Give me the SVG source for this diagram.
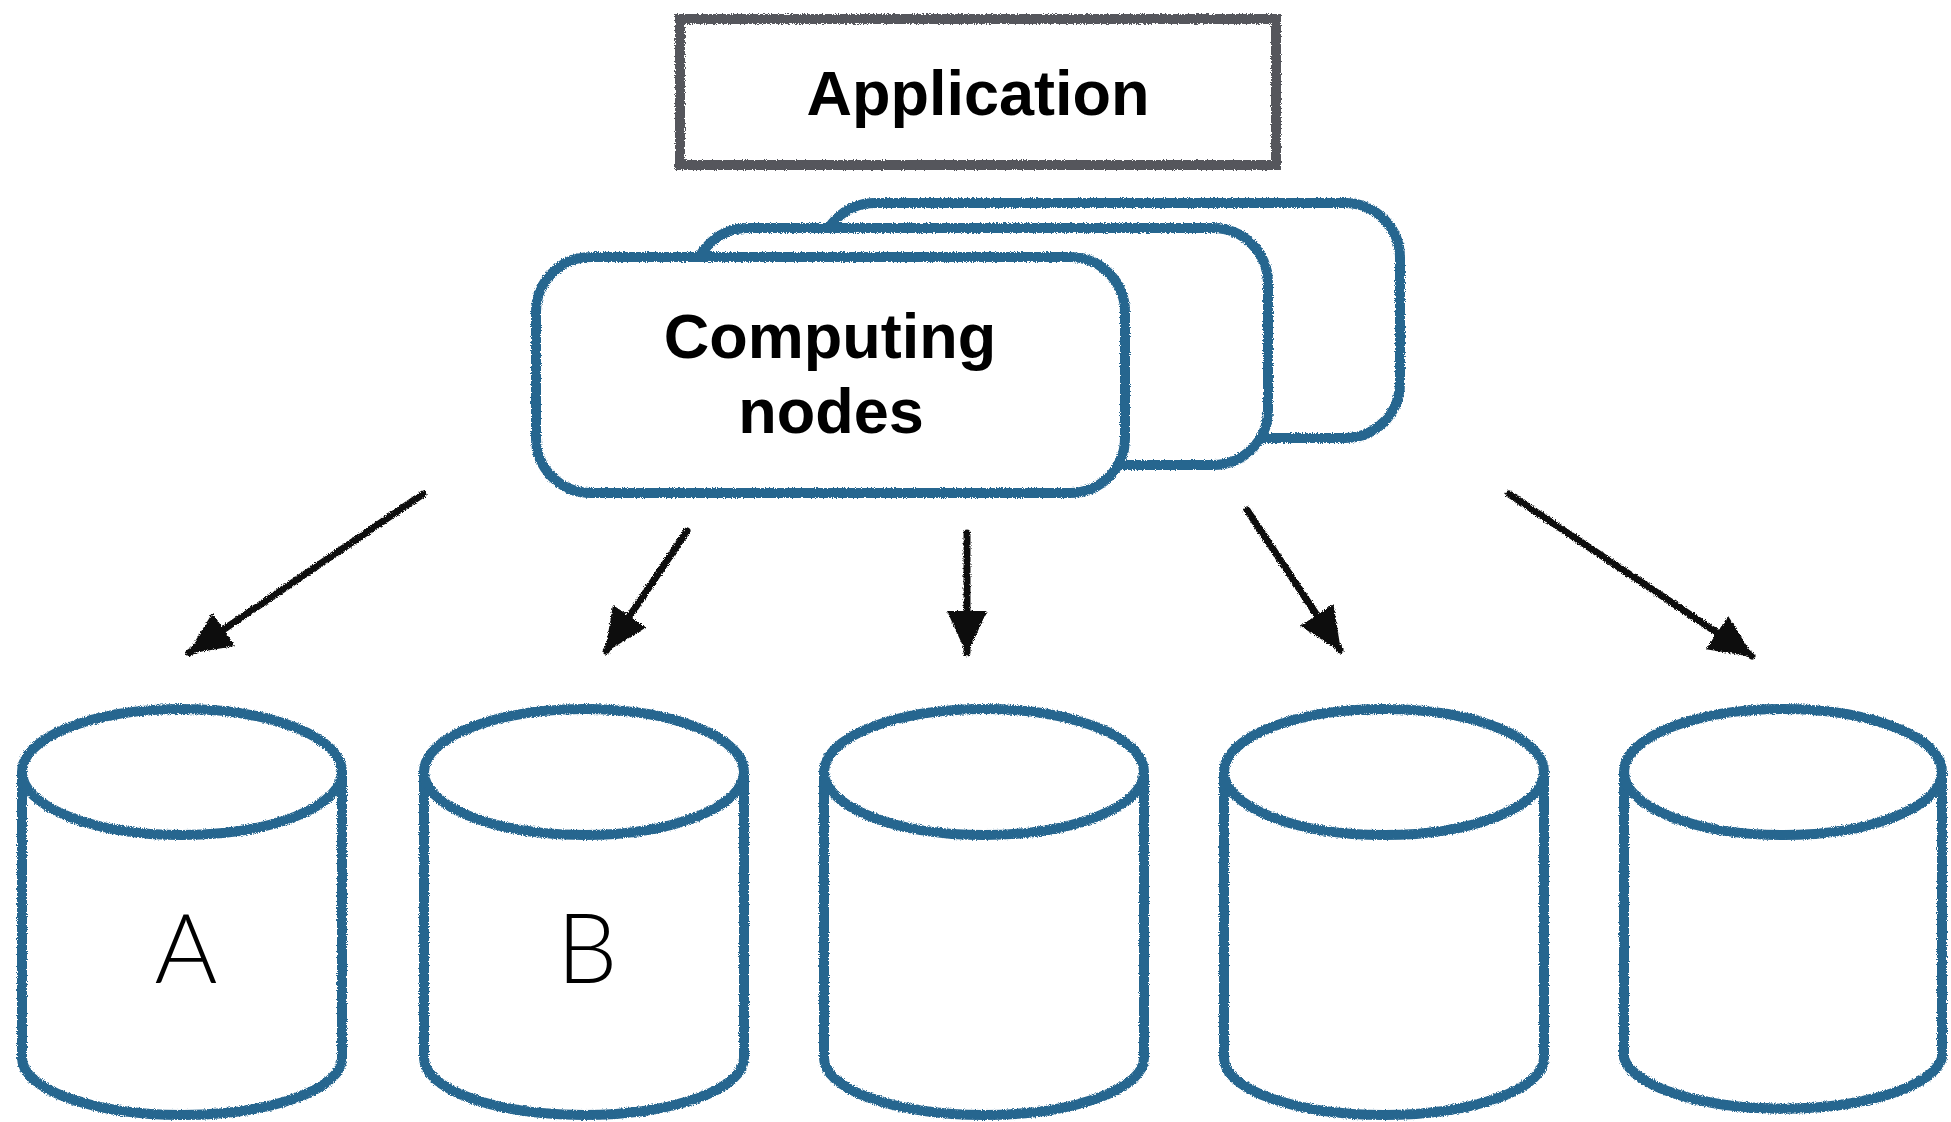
<svg xmlns="http://www.w3.org/2000/svg" width="1951" height="1122" viewBox="0 0 1951 1122">
  <defs>
    <filter id="rough" filterUnits="userSpaceOnUse" x="0" y="0" width="1951" height="1122">
      <feTurbulence type="fractalNoise" baseFrequency="0.9" numOctaves="2" seed="3" result="n"/>
      <feDisplacementMap in="SourceGraphic" in2="n" scale="4" xChannelSelector="R" yChannelSelector="G"/>
    </filter>
    <marker id="head" markerUnits="userSpaceOnUse" viewBox="0 0 44 40" refX="42" refY="20" markerWidth="44" markerHeight="40" orient="auto">
      <path d="M0,0 L44,20 L0,40 Z" fill="#111"/>
    </marker>
  </defs>
  <style>
    .blue { fill: #ffffff; stroke: #27668f; stroke-width: 10; stroke-linejoin: round; }
    .gray { fill: #ffffff; stroke: #54575b; stroke-width: 10; }
    .arrow { stroke: #111; stroke-width: 7; fill: none; stroke-linecap: round; marker-end: url(#head); }
    .bold { font-family: "Liberation Sans", Arial, sans-serif; font-weight: bold; fill: #000; text-anchor: middle; }
    .light { font-family: Lato, "Open Sans", "Liberation Sans", sans-serif; font-weight: 300; fill: #000; text-anchor: middle; font-size: 96px; }
  </style>
  <rect width="1951" height="1122" fill="#ffffff"/>

  <g id="application">
    <rect class="gray" x="680" y="19" width="596" height="146" filter="url(#rough)"/>
    <text class="bold" x="978" y="115" font-size="63">Application</text>
  </g>

  <g id="computing-nodes">
    <rect class="blue" x="820" y="203" width="580" height="235" rx="55" filter="url(#rough)"/>
    <rect class="blue" x="693" y="228" width="575" height="237" rx="55" filter="url(#rough)"/>
    <rect class="blue" x="536" y="257" width="589" height="236" rx="55" filter="url(#rough)"/>
    <text class="bold" x="830" y="358" font-size="63">Computing</text>
    <text class="bold" x="831" y="433" font-size="63">nodes</text>
  </g>

  <g id="connectors" filter="url(#rough)">
    <line class="arrow" x1="423" y1="494" x2="189" y2="653"/>
    <line class="arrow" x1="687" y1="531" x2="606" y2="651"/>
    <line class="arrow" x1="967" y1="533" x2="967" y2="653"/>
    <line class="arrow" x1="1247" y1="510" x2="1340" y2="650"/>
    <line class="arrow" x1="1509" y1="494" x2="1752" y2="656"/>
  </g>

  <g id="db-a">
    <path class="blue" d="M22,772 L22,1058 A160,57 0 0 0 342,1058 L342,772" filter="url(#rough)"/>
    <ellipse class="blue" cx="182" cy="772" rx="160" ry="63" filter="url(#rough)"/>
    <text class="light" x="186" y="983">A</text>
  </g>
  <g id="db-b">
    <path class="blue" d="M424,772 L424,1058 A160,57 0 0 0 744,1058 L744,772" filter="url(#rough)"/>
    <ellipse class="blue" cx="584" cy="772" rx="160" ry="63" filter="url(#rough)"/>
    <text class="light" x="587" y="983">B</text>
  </g>
  <g id="db-c">
    <path class="blue" d="M824,772 L824,1058 A160,57 0 0 0 1144,1058 L1144,772" filter="url(#rough)"/>
    <ellipse class="blue" cx="984" cy="772" rx="160" ry="63" filter="url(#rough)"/>
  </g>
  <g id="db-d">
    <path class="blue" d="M1224,772 L1224,1058 A160,57 0 0 0 1544,1058 L1544,772" filter="url(#rough)"/>
    <ellipse class="blue" cx="1384" cy="772" rx="160" ry="63" filter="url(#rough)"/>
  </g>
  <g id="db-e">
    <path class="blue" d="M1624,772 L1624,1058 A160,57 0 0 0 1942,1058 L1942,772" filter="url(#rough)"/>
    <ellipse class="blue" cx="1783" cy="772" rx="159" ry="63" filter="url(#rough)"/>
  </g>
</svg>
